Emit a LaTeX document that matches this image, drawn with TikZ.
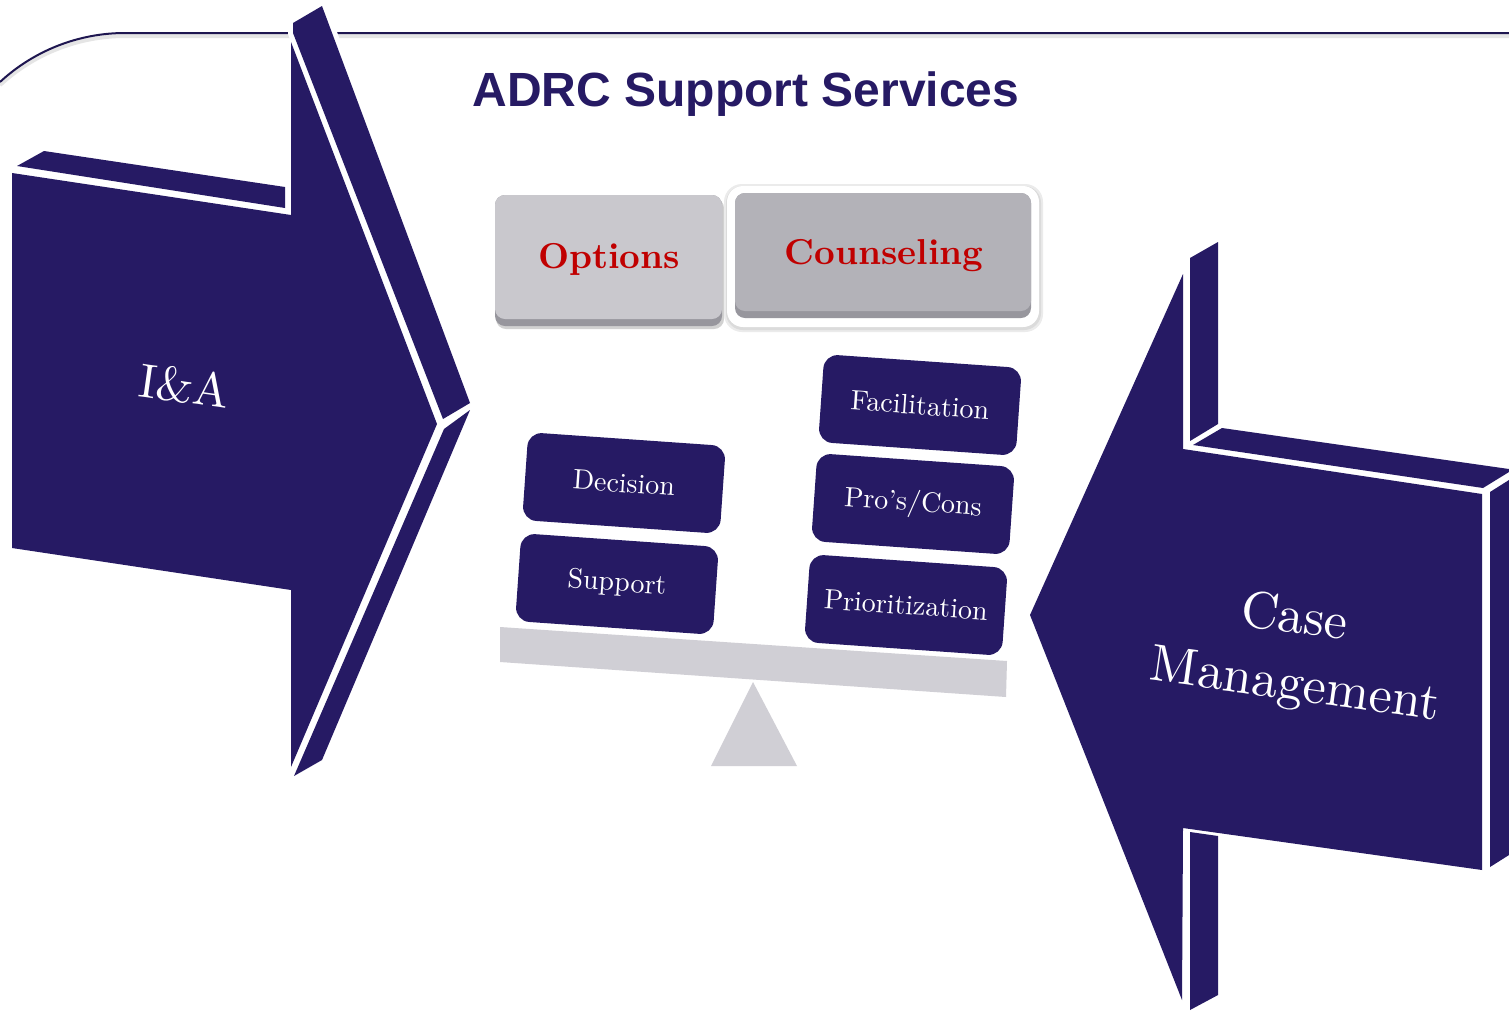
\documentclass[tikz,border=0pt]{standalone}
\usepackage{fontspec}
\setmainfont{lmroman10}[Extension=.otf, UprightFont=*-regular, BoldFont=*-bold, ItalicFont=*-italic, BoldItalicFont=*-bolditalic]
\newfontfamily\titlefont{Liberation Sans}
\definecolor{navy}{HTML}{261A64}
\definecolor{linenavy}{HTML}{1E1650}
\definecolor{beamgrey}{HTML}{D0CFD5}
\definecolor{optgrey}{HTML}{C9C8CD}
\definecolor{cnsgrey}{HTML}{B3B2B8}
\definecolor{bevel}{HTML}{97969D}
\definecolor{txtred}{HTML}{C00000}
\begin{document}
\begin{tikzpicture}[x=1pt,y=-1pt,
  face/.style={fill=navy},
  halo/.style={preaction={draw=white,line width=10pt,line join=miter}},
  tile/.style={fill=navy, rounded corners=14pt, minimum width=198pt, minimum height=88pt,
    rotate=-4, text=white, font=\fontsize{28}{28}\selectfont, inner sep=0pt},
  bigtxt/.style={text=white, font=\fontsize{52}{52}\selectfont, rotate=-8, inner sep=0pt},
  btntxt/.style={text=txtred, font=\bfseries\fontsize{36}{36}\selectfont, inner sep=0pt}
]
\useasboundingbox (0,0) rectangle (1509,1010);
\fill[white] (0,0) rectangle (1509,1010);

% frame line
\draw[black!10, line width=4pt] (0,85) .. controls (34.1,53.5) and (78.6,36) .. (125,36) -- (1509,36);
\draw[linenavy, line width=2pt] (0,82) .. controls (34.1,50.5) and (78.6,33) .. (125,33) -- (1509,33);

% left arrow (I&A)
\path[face] (17,166) -- (44,151) -- (285,187) -- (285,208) -- cycle;
\path[face,halo] (293,23) -- (322,6) -- (470,403) -- (443,419) -- (293,33) -- cycle;
\path[face] (444,429) -- (470,410) -- (322,760) -- (294,776) -- cycle;
\path[face] (12,173) -- (291,215) -- (291,42) -- (437,424) -- (291,767) -- (291,590) -- (12,548) -- cycle;
\node[bigtxt, font=\fontsize{48}{48}\selectfont] (ia) at (185,386) {I\&A};

% right arrow (Case Management)
\path[face] (1190,258) -- (1218,242) -- (1218,424) -- (1190,441) -- cycle;
\path[face] (1193,445) -- (1222,428) -- (1509,469) -- (1509,472) -- (1483,488) -- cycle;
\path[face] (1490,492) -- (1509,480) -- (1509,855) -- (1490,867) -- cycle;
\path[face] (1190,832) -- (1218,836) -- (1218,995) -- (1190,1010) -- cycle;
\path[face] (1030,615) -- (1183,274) -- (1183,449) -- (1482,494) -- (1482,870) -- (1183,828) -- (1182,1000) -- cycle;
\node[bigtxt] (case) at (1295,615) {Case};
\node[bigtxt] (mgmt) at (1295,688) {Management};

% title
\node[font=\titlefont\bfseries\fontsize{48}{48}\selectfont, text=navy, anchor=base] (title) at (746,106) {ADRC Support Services};

% Options button
\fill[black!18, rounded corners=10pt] (496,198) rectangle (724,329);
\fill[bevel, rounded corners=10pt] (495,195) rectangle (722,326);
\fill[optgrey, rounded corners=10pt] (495,195) rectangle (722,319);
\node[btntxt] (opt) at (609,259) {Options};

% Counseling button
\fill[black!8, rounded corners=18pt] (724,184) rectangle (1043,332);
\fill[black!14, rounded corners=17pt] (726,186) rectangle (1041,330);
\fill[white, rounded corners=16pt] (727,186) rectangle (1039,327);
\fill[bevel, rounded corners=10pt] (735,193) rectangle (1031,318);
\fill[cnsgrey, rounded corners=10pt] (735,193) rectangle (1031,311);
\node[btntxt] (cns) at (884,256) {Counseling};

% scale
\fill[beamgrey] (500,627) -- (1007,661) -- (1006,697) -- (500,662) -- cycle;
\fill[beamgrey] (753,682) -- (797,766) -- (711,766) -- cycle;

% tiles
\node[tile] (dec) at (624,483) {Decision};
\node[tile] (sup) at (617,584) {Support};
\node[tile] (fac) at (920,405) {Facilitation};
\node[tile] (pro) at (913,504) {Pro’s/Cons};
\node[tile] (pri) at (906,605) {Prioritization};
\end{tikzpicture}
\end{document}
